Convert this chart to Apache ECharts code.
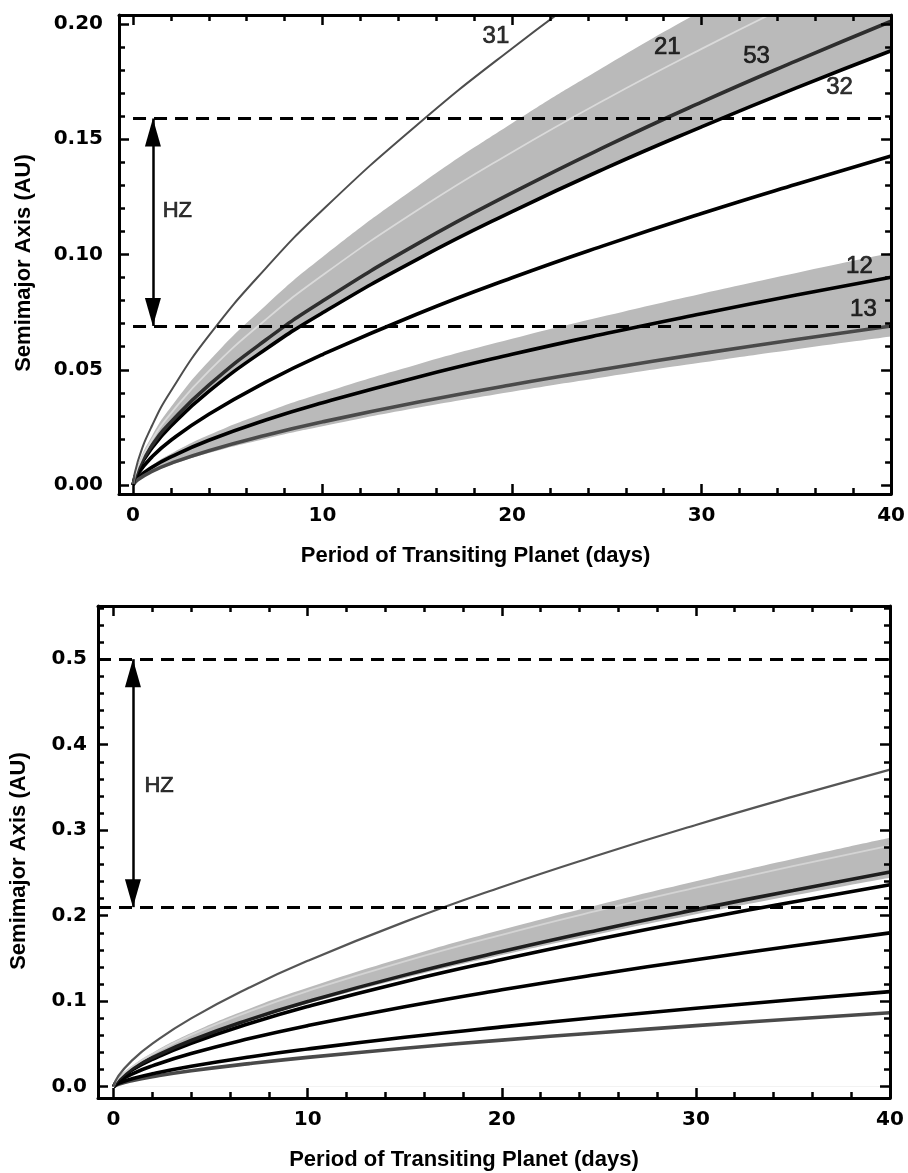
<!DOCTYPE html>
<html><head><meta charset="utf-8">
<script src="https://cdn.jsdelivr.net/npm/echarts@6/dist/echarts.min.js"></script>
<style>html,body{margin:0;padding:0;background:#fff}#c{width:908px;height:1173px}</style>
</head><body><div id="c"></div>
<script>
// Orbital period of the transiting planet (days)
const periodDays = [0, 0.25, 1, 2, 4, 7, 10, 15, 20, 25, 30, 35, 40];

// ---- Top panel: semimajor axis (AU) ----
const topRes31      = [0, 0.0102, 0.0257, 0.0408, 0.0648, 0.0940, 0.1193, 0.1563, 0.1894, 0.2197, 0.2481, 0.2750, 0.3007];
const topBandHigh   = [0, 0.0085, 0.0213, 0.0338, 0.0537, 0.0779, 0.0989, 0.1295, 0.1569, 0.1821, 0.2057, 0.2279, 0.2492];
const topRes21      = [0, 0.0078, 0.0196, 0.0311, 0.0494, 0.0717, 0.0910, 0.1192, 0.1444, 0.1676, 0.1892, 0.2097, 0.2293];
const topRes53      = [0, 0.0068, 0.0172, 0.0273, 0.0433, 0.0629, 0.0798, 0.1046, 0.1267, 0.1471, 0.1661, 0.1840, 0.2012];
const topRes32      = [0, 0.0064, 0.0161, 0.0256, 0.0406, 0.0589, 0.0747, 0.0979, 0.1186, 0.1377, 0.1554, 0.1723, 0.1884];
const topMid        = [0, 0.0048, 0.0122, 0.0194, 0.0307, 0.0446, 0.0566, 0.0742, 0.0899, 0.1043, 0.1178, 0.1305, 0.1427];
const topBand12High = [0, 0.0034, 0.0086, 0.0136, 0.0217, 0.0315, 0.0399, 0.0523, 0.0634, 0.0735, 0.0830, 0.0920, 0.1006];
const topRes12      = [0, 0.0031, 0.0077, 0.0122, 0.0194, 0.0282, 0.0357, 0.0468, 0.0567, 0.0658, 0.0743, 0.0824, 0.0901];
const topRes13      = [0, 0.0023, 0.0059, 0.0094, 0.0149, 0.0216, 0.0274, 0.0359, 0.0435, 0.0504, 0.0570, 0.0631, 0.0690];
const topBand13Low  = [0, 0.0022, 0.0055, 0.0087, 0.0139, 0.0201, 0.0255, 0.0335, 0.0405, 0.0470, 0.0531, 0.0589, 0.0644];
const topHZ = [0.069, 0.159];

// ---- Bottom panel: semimajor axis (AU) ----
const botRes31    = [0, 0.0126, 0.0317, 0.0503, 0.0799, 0.1160, 0.1472, 0.1928, 0.2336, 0.2710, 0.3061, 0.3392, 0.3709];
const botBandHigh = [0, 0.0099, 0.0249, 0.0395, 0.0627, 0.0911, 0.1156, 0.1514, 0.1835, 0.2129, 0.2404, 0.2664, 0.2913];
const botRes21    = [0, 0.0096, 0.0241, 0.0382, 0.0607, 0.0882, 0.1119, 0.1466, 0.1776, 0.2061, 0.2327, 0.2579, 0.2820];
const botBandLow  = [0, 0.0083, 0.0209, 0.0332, 0.0527, 0.0765, 0.0970, 0.1271, 0.1540, 0.1787, 0.2018, 0.2236, 0.2445];
const botRes53    = [0, 0.0085, 0.0215, 0.0340, 0.0541, 0.0785, 0.0996, 0.1305, 0.1580, 0.1834, 0.2071, 0.2295, 0.2510];
const botRes32    = [0, 0.0080, 0.0202, 0.0321, 0.0509, 0.0739, 0.0938, 0.1229, 0.1488, 0.1727, 0.1950, 0.2161, 0.2363];
const botMid      = [0, 0.0061, 0.0154, 0.0244, 0.0388, 0.0563, 0.0714, 0.0935, 0.1133, 0.1315, 0.1485, 0.1646, 0.1799];
const botRes12    = [0, 0.0038, 0.0095, 0.0151, 0.0239, 0.0348, 0.0441, 0.0578, 0.0700, 0.0812, 0.0917, 0.1017, 0.1112];
const botRes13    = [0, 0.0029, 0.0074, 0.0117, 0.0186, 0.0270, 0.0343, 0.0449, 0.0545, 0.0632, 0.0714, 0.0791, 0.0865];
const botHZ = [0.21, 0.5];

const curveLabels = ['31', '21', '53', '32', '12', '13'];
const xTitle = 'Period of Transiting Planet (days)';
const yTitle = 'Semimajor Axis (AU)';

const pts = arr => periodDays.map((p, i) => [p, arr[i]]);

function fmtStep(step, dec) {
  return v => (Math.abs(v / step - Math.round(v / step)) < 1e-6 ? (Math.round(v / step) * step).toFixed(dec) : '');
}

function axis(grid, min, max, pos, labels, opts) {
  const a = {
    type: 'value', gridIndex: grid, position: pos, min: min, max: max,
    splitNumber: opts.split, z: 10,
    axisLine: { show: true, onZero: false, lineStyle: { color: '#000', width: 3 } },
    axisTick: { show: true, inside: true, length: 10, lineStyle: { color: '#000', width: 2.5 } },
    minorTick: { show: true, splitNumber: 5, length: 6, lineStyle: { color: '#000', width: 2.5 } },
    splitLine: { show: false }, minorSplitLine: { show: false },
    axisLabel: {
      show: labels, margin: opts.margin, fontFamily: 'DejaVu Sans', fontWeight: 'bold',
      fontSize: 20, color: '#000', formatter: opts.fmt
    }
  };
  if (opts.name) {
    a.name = opts.name;
    a.nameLocation = 'middle';
    a.nameGap = opts.nameGap;
    a.nameTextStyle = {
      fontFamily: 'Liberation Sans', fontWeight: 'bold', fontSize: 22, color: '#000',
      verticalAlign: 'middle', align: 'center', padding: opts.namePad
    };
  }
  return a;
}

function band(xi, yi, arr, color) {
  return {
    type: 'line', xAxisIndex: xi, yAxisIndex: yi, data: pts(arr), smooth: true,
    symbol: 'none', silent: true, z: 1, lineStyle: { width: 0 },
    areaStyle: { color: color, opacity: 1 }
  };
}
function curve(xi, yi, arr, color, width, extra) {
  return Object.assign({
    type: 'line', xAxisIndex: xi, yAxisIndex: yi, data: pts(arr), smooth: true,
    symbol: 'none', silent: true, z: 3, lineStyle: { color: color, width: width }
  }, extra || {});
}
function hzLines(xStart, xEnd, hz) {
  return {
    markLine: {
      silent: true, animation: false, z: 4,
      label: { show: false }, symbol: ['none', 'none'],
      data: [
        [{ coord: [xStart, hz[1]] }, { coord: [xEnd, hz[1]] }],
        [{ coord: [xStart, hz[0]] }, { coord: [xEnd, hz[0]] }]
      ],
      lineStyle: { color: '#000', width: 3, type: [13, 8] }
    }
  };
}
function hzArrow(xi, yi, hz, arrowX) {
  const head = { symbol: 'triangle', symbolSize: [16, 28], symbolOffset: [0, '50%'] };
  return {
    type: 'line', xAxisIndex: xi, yAxisIndex: yi, data: [], symbol: 'none', z: 4,
    markLine: {
      silent: true, animation: false, z: 4,
      label: { show: false },
      data: [[
        Object.assign({ coord: [arrowX, hz[0]] }, head),
        Object.assign({ coord: [arrowX, hz[1]] }, head)
      ]],
      lineStyle: { color: '#000', width: 2.5, type: 'solid' }
    }
  };
}
function textSeries(xi, yi, items, size) {
  return {
    type: 'scatter', xAxisIndex: xi, yAxisIndex: yi, symbolSize: 1, silent: true, z: 6,
    itemStyle: { color: 'rgba(0,0,0,0)' },
    label: { show: true, position: 'inside', formatter: '{b}', color: '#000',
      fontFamily: 'Liberation Sans', fontSize: size,
      textBorderColor: '#000', textBorderWidth: 0.7 },
    data: items
  };
}

const chart = echarts.init(document.getElementById('c'), null, { renderer: 'canvas' });
chart.setOption({
  animation: false,
  backgroundColor: '#fff',
  grid: [
    { left: 119, top: 15, width: 775, height: 479 },
    { left: 98, top: 606, width: 792, height: 492 }
  ],
  xAxis: [
    axis(0, -0.74, 40, 'bottom', true, { split: 4, margin: 12, fmt: fmtStep(10, 0), name: xTitle, nameGap: 62, namePad: [0, 59, 0, 0] }),
    axis(0, -0.74, 40, 'top', false, { split: 4, margin: 12, fmt: fmtStep(10, 0) }),
    axis(1, -0.80, 40, 'bottom', true, { split: 4, margin: 12, fmt: fmtStep(10, 0), name: xTitle, nameGap: 62, namePad: [0, 60, 0, 0] }),
    axis(1, -0.80, 40, 'top', false, { split: 4, margin: 12, fmt: fmtStep(10, 0) })
  ],
  yAxis: [
    axis(0, -0.0039, 0.2039, 'left', true, { split: 4, margin: 16, fmt: fmtStep(0.05, 2), name: yTitle, nameGap: 95, namePad: [0, 17, 0, 0] }),
    axis(0, -0.0039, 0.2039, 'right', false, { split: 4, margin: 16, fmt: fmtStep(0.05, 2) }),
    axis(1, -0.0132, 0.5622, 'left', true, { split: 5, margin: 11, fmt: fmtStep(0.1, 1), name: yTitle, nameGap: 79, namePad: [0, 18, 0, 0] }),
    axis(1, -0.0132, 0.5622, 'right', false, { split: 5, margin: 11, fmt: fmtStep(0.1, 1) })
  ],
  series: [
    // top panel bands
    band(0, 0, topBandHigh, '#bababa'),
    band(0, 0, topRes32, '#ffffff'),
    band(0, 0, topBand12High, '#bababa'),
    band(0, 0, topBand13Low, '#ffffff'),
    // top panel curves
    curve(0, 0, topMid, '#000', 3.6),
    curve(0, 0, topRes12, '#000', 3.6),
    curve(0, 0, topRes13, '#4a4a4a', 3.6),
    curve(0, 0, topRes32, '#000', 3.6),
    curve(0, 0, topRes53, '#2e2e2e', 3.6),
    curve(0, 0, topRes21, '#dadada', 1.8),
    curve(0, 0, topRes31, '#4d4d4d', 2, hzLines(0, 40, topHZ)),
    hzArrow(0, 0, topHZ, 1.05),
    textSeries(0, 0, [
      { name: curveLabels[0], value: [19.15, 0.1948] },
      { name: curveLabels[1], value: [28.19, 0.1898] },
      { name: curveLabels[2], value: [32.9, 0.1861] },
      { name: curveLabels[3], value: [37.28, 0.1725] },
      { name: curveLabels[4], value: [38.33, 0.0950] },
      { name: curveLabels[5], value: [38.54, 0.0764] }
    ], 24),
    textSeries(0, 0, [{ name: 'HZ', value: [2.34, 0.1189] }], 22),

    // bottom panel band
    band(2, 2, botBandHigh, '#bababa'),
    band(2, 2, botBandLow, '#ffffff'),
    curve(2, 2, botRes13, '#4a4a4a', 3.6),
    curve(2, 2, botRes12, '#000', 3.6),
    curve(2, 2, botMid, '#000', 3.6),
    curve(2, 2, botRes32, '#000', 3.6),
    curve(2, 2, botRes53, '#1e1e1e', 3.6),
    curve(2, 2, botRes21, '#d4d4d4', 1.8),
    curve(2, 2, botRes31, '#555555', 2.2, hzLines(-0.8, 40, botHZ)),
    hzArrow(2, 2, botHZ, 1.0),
    textSeries(2, 2, [{ name: 'HZ', value: [2.35, 0.3517] }], 22)
  ]
});
</script>
</body></html>
